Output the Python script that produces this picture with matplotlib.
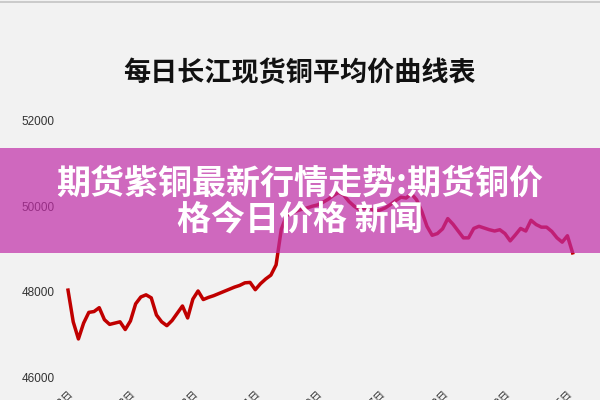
import numpy as np
import matplotlib
matplotlib.use("Agg")
import matplotlib.pyplot as plt
from matplotlib.patches import Rectangle
from matplotlib.lines import Line2D

plt.rcParams['font.family'] = ['Noto Sans CJK SC', 'DejaVu Sans']

# daily average price (yuan / ton)
price = [48040, 47300, 46900, 47270, 47520, 47540, 47630, 47350, 47240, 47270,
         47300, 47120, 47320, 47720, 47880, 47930, 47860, 47460, 47300, 47210,
         47330, 47500, 47670, 47390, 47830, 48020, 47820, 47870, 47910, 47960,
         48010, 48060, 48110, 48150, 48210, 48220, 48050, 48190, 48300, 48390,
         48630, 49460, 49780, 49840, 49890, 49930, 49960, 50000, 50030, 50090,
         50160, 50250, 50320, 50260, 50110, 50000, 49920, 49950, 49960, 49880,
         49910, 49960, 50040, 50130, 50210, 50190, 50290, 50150, 49880, 49530,
         49320, 49360, 49470, 49710, 49580, 49420, 49260, 49260, 49480, 49530,
         49490, 49450, 49420, 49450, 49360, 49190, 49330, 49480, 49420, 49670,
         49570, 49510, 49510, 49410, 49260, 49160, 49310, 48910]
tick_idx = [0, 12, 24, 36, 48, 60, 72, 84, 96]
tick_lab = ['3月2日', '3月18日', '4月3日', '4月21日', '5月9日',
            '5月27日', '6月12日', '6月30日', '7月16日']
y_ticks = [46000, 48000, 50000, 52000]

title = '每日长江现货铜平均价曲线表'
banner = '期货紫铜最新行情走势:期货铜价\n格今日价格 新闻'

bg = '#f2f2f2'
fig = plt.figure(figsize=(6, 4), dpi=100, facecolor=bg)

# axes placed so the y ticks land where they do in the picture
ax = fig.add_axes([0.10, 0.05625, 0.867, 0.6425], facecolor=bg)
x = np.arange(len(price))
ax.plot(x, price, color='#c00000', lw=2.5, solid_joinstyle='round')
ax.set_xlim(-1.54, 98.46)
ax.set_ylim(46000, 52000)
ax.set_yticks(y_ticks)
ax.set_xticks(tick_idx)
ax.set_xticklabels(tick_lab, rotation=45, ha='right', rotation_mode='anchor')
ax.tick_params(length=0, labelsize=7.5, colors='#333333')
ax.tick_params(axis='y', pad=4, labelsize=8.5)
ax.tick_params(axis='x', pad=8)
for lbl in ax.get_yticklabels():
    lbl.set_fontfamily(['Liberation Sans', 'DejaVu Sans'])
for s in ax.spines.values():
    s.set_visible(False)

fig.text(0.5, 0.8175, title, ha='center', va='center', fontsize=19.5,
         fontweight='heavy', color='#111111')

# thin border on top
fig.add_artist(Line2D([0, 1], [0.994, 0.994], transform=fig.transFigure,
                      color='#c4c4c4', lw=1.2))

# magenta banner laid over the chart
fig.add_artist(Rectangle((0, 1 - 253 / 400), 1, 105 / 400,
                         transform=fig.transFigure, facecolor=(193/255, 45/255, 168/255),
                         alpha=0.7, edgecolor='none', zorder=5))
fig.text(0.5, 1 - 201 / 400, banner, ha='center', va='center', fontsize=24.5,
         fontweight='heavy', color='white', linespacing=1.05, zorder=6)

fig.savefig('out.png', dpi=100, facecolor=bg)
